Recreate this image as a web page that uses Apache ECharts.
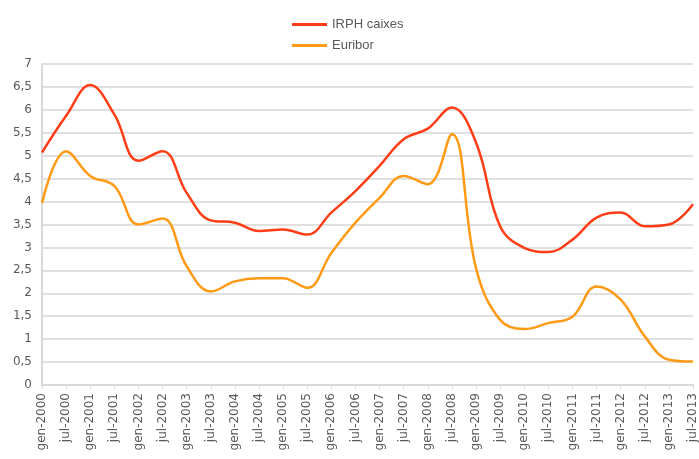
<!DOCTYPE html>
<html>
<head>
<meta charset="utf-8">
<script src="https://cdn.jsdelivr.net/npm/echarts@6/dist/echarts.min.js"></script>
<style>
  html, body { margin: 0; padding: 0; background: #fff; }
  #main { width: 699px; height: 459px; }
</style>
</head>
<body>
<div id="main"></div>
<script>
var years = [];
for (var y = 2000; y <= 2013; y++) { years.push(y); }
var months = ['gen', 'jul'];
var categories = [];
years.forEach(function (yr) {
  months.forEach(function (m) { categories.push(m + '-' + yr); });
});

var irphCaixes = [5.07, 5.87, 6.54, 5.9, 4.89, 5.1, 4.19, 3.59, 3.54, 3.36, 3.39, 3.28, 3.76, 4.23,
  4.78, 5.36, 5.59, 6.05, 5.29, 3.46, 2.99, 2.9, 3.17, 3.65, 3.76, 3.46, 3.5, 3.94];
var euribor = [3.97, 5.1, 4.56, 4.34, 3.5, 3.63, 2.59, 2.04, 2.26, 2.33, 2.33, 2.12, 2.88, 3.54,
  4.08, 4.56, 4.38, 5.47, 2.55, 1.42, 1.22, 1.35, 1.49, 2.15, 1.86, 1.06, 0.55, 0.51];

var myChart = echarts.init(document.getElementById('main'));
var option = {
  animation: false,
  textStyle: { fontFamily: 'DejaVu Sans' },
  legend: {
    orient: 'vertical',
    left: 287,
    top: 13,
    icon: 'rect',
    itemWidth: 35,
    itemHeight: 3,
    itemGap: 8,
    textStyle: { color: '#595959', fontSize: 13, fontFamily: 'Liberation Sans' },
    data: ['IRPH caixes', 'Euribor']
  },
  grid: { left: 42, right: 2, top: 64, bottom: 74 },
  xAxis: {
    type: 'category',
    data: categories,
    boundaryGap: false,
    axisLine: { lineStyle: { color: '#d9d9d9', width: 2 } },
    axisTick: { show: true, length: 4, lineStyle: { color: '#d9d9d9' } },
    axisLabel: { rotate: 90, interval: 0, color: '#595959', fontSize: 12, margin: 8 },
    splitLine: { show: false }
  },
  yAxis: {
    type: 'value',
    min: 0,
    max: 7,
    interval: 0.5,
    axisLine: { show: true, lineStyle: { color: '#d9d9d9', width: 2 } },
    axisTick: { show: false },
    axisLabel: {
      color: '#595959', fontSize: 12, margin: 10,
      formatter: function (v) { return String(v).replace('.', ','); }
    },
    splitLine: { lineStyle: { color: '#e0e0e0', width: 2 } }
  },
  series: [
    {
      name: 'IRPH caixes',
      type: 'line',
      data: irphCaixes,
      smooth: 0.4,
      symbol: 'none',
      lineStyle: { color: '#ff3d17', width: 2.5 },
      itemStyle: { color: '#ff3d17' }
    },
    {
      name: 'Euribor',
      type: 'line',
      data: euribor,
      smooth: 0.4,
      symbol: 'none',
      lineStyle: { color: '#ff9a14', width: 2.5 },
      itemStyle: { color: '#ff9a14' }
    }
  ]
};
myChart.setOption(option);
</script>
</body>
</html>
